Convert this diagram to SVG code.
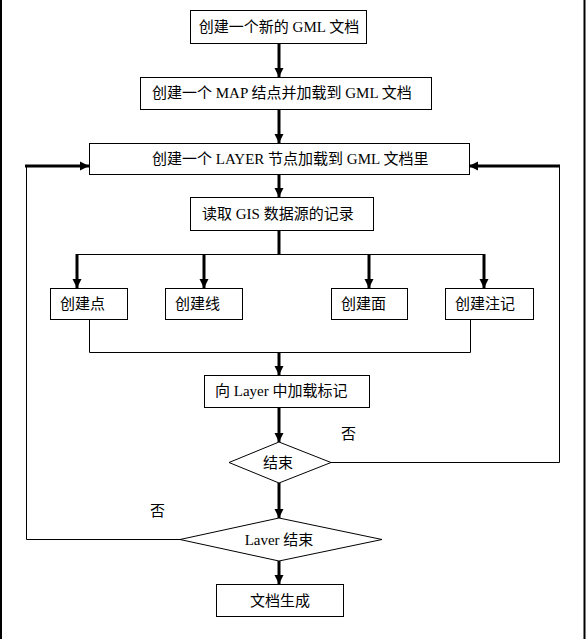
<svg xmlns="http://www.w3.org/2000/svg" width="587" height="639" viewBox="0 0 587 639">
<style>
.box{fill:#fff;stroke:#000;stroke-width:1}
.t{font-family:"Liberation Serif","Noto Sans CJK SC",serif;font-size:15px;fill:#000}
.c{text-anchor:middle}
.thick{stroke:#000;stroke-width:3;fill:none}
.thin{stroke:#000;stroke-width:1;fill:none}
</style>
<defs>
<marker id="ah" markerUnits="userSpaceOnUse" markerWidth="10" markerHeight="10" refX="9" refY="5" orient="auto">
<path d="M0,0.5 L9,5 L0,9.5 z" fill="#000"/>
</marker>
</defs>
<rect x="0" y="0" width="587" height="639" fill="#fff"/>
<g id="frame">
<line x1="1" y1="0" x2="1" y2="639" stroke="#000" stroke-width="2"/>
<line x1="584.5" y1="0" x2="584.5" y2="639" stroke="#000" stroke-width="2"/>
</g>
<g id="connectors">
<line x1="279" y1="43" x2="279" y2="77" class="thick" marker-end="url(#ah)"/>
<line x1="279" y1="109" x2="279" y2="143" class="thick" marker-end="url(#ah)"/>
<line x1="279" y1="175" x2="279" y2="197" class="thick" marker-end="url(#ah)"/>
<line x1="279" y1="230" x2="279" y2="255" class="thick"/>
<line x1="77" y1="254.5" x2="484" y2="254.5" class="thin"/>
<line x1="77" y1="254" x2="77" y2="288" class="thick" marker-end="url(#ah)"/>
<line x1="204" y1="254" x2="204" y2="288" class="thick" marker-end="url(#ah)"/>
<line x1="369" y1="254" x2="369" y2="288" class="thick" marker-end="url(#ah)"/>
<line x1="484" y1="254" x2="484" y2="288" class="thick" marker-end="url(#ah)"/>
<polyline points="89.5,319 89.5,352.5 470.5,352.5 470.5,319" class="thin"/>
<line x1="279" y1="352" x2="279" y2="375" class="thick" marker-end="url(#ah)"/>
<line x1="279" y1="407" x2="279" y2="442" class="thick" marker-end="url(#ah)"/>
<polyline points="331,462.5 559.5,462.5 559.5,166" class="thin"/>
<line x1="560" y1="166" x2="469" y2="166" class="thick" marker-end="url(#ah)"/>
<line x1="279" y1="483" x2="279" y2="518" class="thick" marker-end="url(#ah)"/>
<polyline points="180,539.5 26.5,539.5 26.5,166" class="thin"/>
<line x1="25" y1="166" x2="89" y2="166" class="thick" marker-end="url(#ah)"/>
<line x1="279" y1="561" x2="279" y2="584" class="thick" marker-end="url(#ah)"/>
<text x="341" y="439" class="t">否</text>
<text x="150" y="516" class="t">否</text>
</g>
<g id="n1"><rect x="190.5" y="10.5" width="176" height="33" class="box"/><text x="279" y="32" class="t c">创建一个新的 GML 文档</text></g>
<g id="n2"><rect x="140.5" y="77.5" width="291" height="32" class="box"/><text x="152" y="98" class="t">创建一个 MAP 结点并加载到 GML 文档</text></g>
<g id="n3"><rect x="89.5" y="143.5" width="380" height="31" class="box"/><text x="152" y="164" class="t">创建一个 LAYER 节点加载到 GML 文档里</text></g>
<g id="n4"><rect x="190.5" y="197.5" width="183" height="33" class="box"/><text x="202" y="219" class="t">读取 GIS 数据源的记录</text></g>
<g id="n5"><rect x="50.5" y="288.5" width="77" height="31" class="box"/><text x="60" y="309" class="t">创建点</text></g>
<g id="n6"><rect x="165.5" y="288.5" width="77" height="31" class="box"/><text x="175" y="309" class="t">创建线</text></g>
<g id="n7"><rect x="331.5" y="288.5" width="76" height="31" class="box"/><text x="341" y="309" class="t">创建面</text></g>
<g id="n8"><rect x="445.5" y="288.5" width="88" height="31" class="box"/><text x="455" y="309" class="t">创建注记</text></g>
<g id="n9"><rect x="204.5" y="375.5" width="165" height="32" class="box"/><text x="215" y="396" class="t">向 Layer 中加载标记</text></g>
<g id="n10"><polygon points="279,442 331,462.5 279,483 229,462.5" class="box"/><text x="278" y="468" class="t c">结束</text></g>
<g id="n11"><polygon points="279,518 382,539.5 279,561 180,539.5" class="box"/><text x="279" y="545" class="t c">Laver 结束</text></g>
<g id="n12"><rect x="216.5" y="584.5" width="127" height="32" class="box"/><text x="280" y="606" class="t c">文档生成</text></g>
</svg>
